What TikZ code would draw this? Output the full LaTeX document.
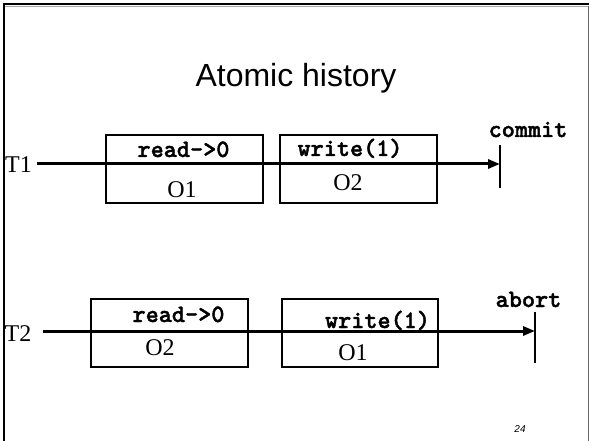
\documentclass[tikz,border=0pt]{standalone}
\usepackage{fontspec}
\setmainfont{Liberation Serif}
\newfontfamily\headfont{Liberation Sans}
\newfontfamily\codefont{lmmonolt10-bold.otf}[FakeBold=1.6]
\usetikzlibrary{arrows.meta}

\tikzset{
  slide/.style={x=1pt,y=-1pt},
  opbox/.style={draw,line width=2pt,minimum width=157pt,minimum height=68pt,inner sep=0pt},
  optext/.style={inner sep=0pt,anchor=base,font=\codefont\fontsize{25}{25}\selectfont},
  objtext/.style={inner sep=0pt,anchor=base,font=\fontsize{24}{24}\selectfont},
  txlabel/.style={inner sep=0pt,anchor=base,font=\fontsize{24}{24}\selectfont},
  timeline/.style={line width=3pt,-{Triangle[length=12pt,width=9pt]}},
  endbar/.style={line width=2pt},
}

\begin{document}
\begin{tikzpicture}[slide]
  \useasboundingbox (0,0) rectangle (589,441);

  % slide frame
  \draw[line width=2.5pt] (3,4) -- (589,4);
  \draw[gray!70,line width=1pt] (5,6.2) -- (589,6.2);
  \draw[line width=2.5pt] (4,3) -- (4,441);
  \draw[gray!80!black,line width=1pt] (588,6) -- (588,441);

  % title
  \node[inner sep=0pt,anchor=base,font=\headfont\fontsize{32}{32}\selectfont] (title) at (296,87) {Atomic history};

  % ---- transaction T1 ----
  \node[opbox] (t1a) at (184.5,169) {};
  \node[opbox] (t1b) at (358,169) {};
  \node[txlabel] (t1) at (18.5,172) {T1};
  \coordinate (t1start) at (37,164);
  \coordinate (t1end) at (500,164);
  \coordinate (c1top) at (500,145);
  \coordinate (c1bot) at (500,188);
  \draw[timeline] (t1start) -- (t1end);
  \draw[endbar] (c1top) -- (c1bot);
  \node[optext] (t1aop) at (183.5,157) {read->0};
  \node[objtext] (t1aobj) at (182,197) {O1};
  \node[optext] (t1bop) at (350,156) {write(1)};
  \node[objtext] (t1bobj) at (348,190) {O2};
  \node[optext] (commit) at (528,137) {commit};

  % ---- transaction T2 ----
  \node[opbox] (t2a) at (169.5,332.5) {};
  \node[opbox,minimum width=156pt] (t2b) at (360,332.5) {};
  \node[txlabel] (t2) at (18,341) {T2};
  \coordinate (t2start) at (43,331);
  \coordinate (t2end) at (535,331);
  \coordinate (a2top) at (535,312);
  \coordinate (a2bot) at (535,363);
  \draw[timeline] (t2start) -- (t2end);
  \draw[endbar] (a2top) -- (a2bot);
  \node[optext] (t2aop) at (178.5,322) {read->0};
  \node[objtext] (t2aobj) at (160,355) {O2};
  \node[optext] (t2bop) at (377.5,328) {write(1)};
  \node[objtext] (t2bobj) at (353,360) {O1};
  \node[optext] (abort) at (528.5,307) {abort};

  % page number
  \node[inner sep=0pt,anchor=base,font=\headfont\itshape\fontsize{10}{10}\selectfont] (page) at (520,432) {24};
\end{tikzpicture}
\end{document}
